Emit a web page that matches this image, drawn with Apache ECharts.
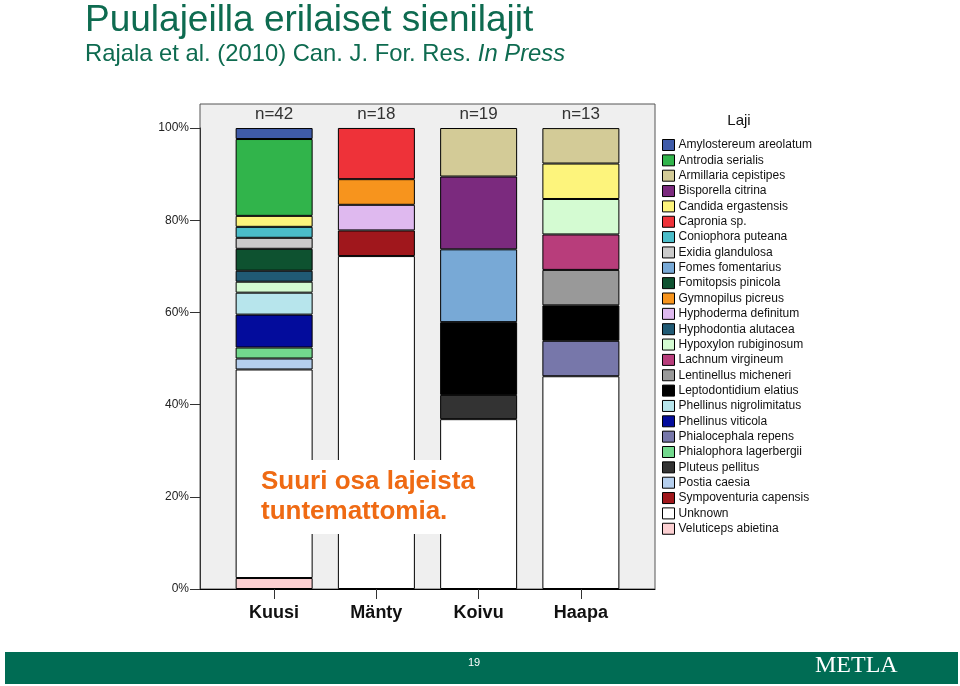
<!DOCTYPE html>
<html>
<head>
<meta charset="utf-8">
<script src="https://cdn.jsdelivr.net/npm/echarts@6/dist/echarts.min.js"></script>
<style>
html,body{margin:0;padding:0;background:#fff;}
#chart{width:960px;height:686px;}
</style>
</head>
<body>
<div id="chart"></div>
<script>
// ---- data ----
const categories = ['Kuusi', 'Mänty', 'Koivu', 'Haapa'];
const sampleSizes = ['n=42', 'n=18', 'n=19', 'n=13'];
const species = [
  'Amylostereum areolatum', 'Antrodia serialis', 'Armillaria cepistipes', 'Bisporella citrina',
  'Candida ergastensis', 'Capronia sp.', 'Coniophora puteana', 'Exidia glandulosa',
  'Fomes fomentarius', 'Fomitopsis pinicola', 'Gymnopilus picreus', 'Hyphoderma definitum',
  'Hyphodontia alutacea', 'Hypoxylon rubiginosum', 'Lachnum virgineum', 'Lentinellus micheneri',
  'Leptodontidium elatius', 'Phellinus nigrolimitatus', 'Phellinus viticola', 'Phialocephala repens',
  'Phialophora lagerbergii', 'Pluteus pellitus', 'Postia caesia', 'Sympoventuria capensis',
  'Unknown', 'Veluticeps abietina'
];
const speciesColors = [
  '#3f5ba9', '#31b44b', '#d3cb97', '#7b2a7e',
  '#fdf47c', '#ee3239', '#4bbdc9', '#cbcbcb',
  '#78a9d6', '#0e5230', '#f7941d', '#dfb9ef',
  '#205a74', '#d4fbd2', '#b83d7b', '#999999',
  '#000000', '#b7e5ec', '#030c9c', '#7777aa',
  '#72d88d', '#333333', '#b5cfee', '#a0171c',
  '#ffffff', '#fcd0d2'
];
// percentage of isolates per species (same order as species)
const kuusi = [2.38, 16.67, 0, 0, 2.38, 0, 2.38, 2.38, 0, 4.76, 0, 0, 2.38, 2.38, 0, 0, 0, 4.76, 7.14, 0, 2.38, 0, 2.38, 0, 45.24, 2.38];
const manty = [0, 0, 0, 0, 0, 11.11, 0, 0, 0, 0, 5.56, 5.56, 0, 0, 0, 0, 0, 0, 0, 0, 0, 0, 0, 5.56, 72.22, 0];
const koivu = [0, 0, 10.53, 15.79, 0, 0, 0, 0, 15.79, 0, 0, 0, 0, 0, 0, 0, 15.79, 0, 0, 0, 0, 5.26, 0, 0, 36.84, 0];
const haapa = [0, 0, 7.69, 0, 7.69, 0, 0, 0, 0, 0, 0, 0, 0, 7.69, 7.69, 7.69, 7.69, 0, 0, 7.69, 0, 0, 0, 0, 46.15, 0];

// ---- chart ----
const chart = echarts.init(document.getElementById('chart'), null, {renderer: 'canvas'});
const series = [];
for (let i = species.length - 1; i >= 0; i--) {
  series.push({
    type: 'bar',
    name: species[i],
    stack: 'all',
    xAxisIndex: 1,
    yAxisIndex: 1,
    barWidth: 77,
    data: [kuusi[i], manty[i], koivu[i], haapa[i]].map(v => v === 0 ? '-' : v),
    itemStyle: {color: speciesColors[i], borderColor: '#000', borderWidth: 1},
    emphasis: {disabled: true},
    silent: true
  });
}

const ff = 'Arial, "Liberation Sans", sans-serif';
chart.setOption({
  animation: false,
  backgroundColor: '#ffffff',
  textStyle: {fontFamily: ff},
  grid: [
    {left: 200, right: 305, top: 104, bottom: 97, show: true, backgroundColor: '#efefef', borderColor: '#555', borderWidth: 1},
    {left: 223, right: 328, top: 128, bottom: 97}
  ],
  xAxis: [
    {gridIndex: 0, type: 'value', min: 0, max: 1, axisLine: {show: true, lineStyle: {color: '#000', width: 1}},
      axisTick: {show: false}, axisLabel: {show: false}, splitLine: {show: false}},
    {gridIndex: 1, type: 'category', data: categories, position: 'bottom',
      axisLine: {show: false}, axisTick: {show: true, alignWithLabel: true, length: 10, lineStyle: {color: '#333'}},
      axisLabel: {fontSize: 18, fontWeight: 'bold', color: '#111', margin: 15, fontFamily: ff}},
    {gridIndex: 1, type: 'category', data: sampleSizes, position: 'top',
      axisLine: {show: false}, axisTick: {show: false},
      axisLabel: {fontSize: 17, color: '#333', margin: 5, fontFamily: ff}}
  ],
  yAxis: [
    {gridIndex: 0, type: 'value', show: false, min: 0, max: 1},
    {gridIndex: 1, type: 'value', min: 0, max: 100, interval: 20, offset: 23,
      axisLine: {show: true, lineStyle: {color: '#333'}},
      axisTick: {show: true, length: 10, lineStyle: {color: '#333'}},
      splitLine: {show: false},
      axisLabel: {formatter: '{value}%', fontSize: 12, color: '#222', margin: 11, fontFamily: ff}}
  ],
  legend: {
    orient: 'vertical',
    left: 662,
    top: 139,
    padding: 0,
    itemWidth: 12,
    itemHeight: 11,
    itemGap: 3.35,
    icon: 'rect',
    selectedMode: false,
    data: species,
    itemStyle: {borderColor: '#000', borderWidth: 1},
    textStyle: {fontSize: 12, color: '#111', fontFamily: ff, padding: [0, 0, 0, -1]}
  },
  graphic: [
    {type: 'text', x: 85, y: 21, style: {text: 'Puulajeilla erilaiset sienilajit', fill: '#0e6b50', font: '37px ' + ff, verticalAlign: 'middle'}, z: 10},
    {type: 'text', x: 85, y: 54, style: {
      text: '{n|Rajala et al. (2010) Can. J. For. Res. }{i|In Press}',
      verticalAlign: 'middle',
      rich: {
        n: {fill: '#0e6b50', fontSize: 23.8, fontFamily: ff},
        i: {fill: '#0e6b50', fontSize: 23.8, fontFamily: ff, fontStyle: 'italic'}
      }
    }, z: 10},
    {type: 'text', x: 739, y: 121, style: {text: 'Laji', fill: '#111', font: '15px ' + ff, align: 'center', verticalAlign: 'middle'}, z: 10},
    {type: 'rect', shape: {x: 257, y: 460, width: 223, height: 74}, style: {fill: '#ffffff'}, z: 20},
    {type: 'text', x: 261, y: 482, style: {text: 'Suuri osa lajeista', fill: '#ef6a13', font: 'bold 26px ' + ff, verticalAlign: 'middle'}, z: 21},
    {type: 'text', x: 261, y: 512, style: {text: 'tuntemattomia.', fill: '#ef6a13', font: 'bold 26px ' + ff, verticalAlign: 'middle'}, z: 21},
    {type: 'rect', shape: {x: 5, y: 652, width: 953, height: 32}, style: {fill: '#006c54'}, z: 10},
    {type: 'text', x: 474, y: 663, style: {text: '19', fill: '#ffffff', font: '11px ' + ff, align: 'center', verticalAlign: 'middle'}, z: 11},
    {type: 'text', x: 815, y: 666, style: {text: 'METLA', fill: '#ffffff', font: '24px "Liberation Serif", "Times New Roman", serif', verticalAlign: 'middle'}, z: 11}
  ],
  series: series
});
</script>
</body>
</html>
